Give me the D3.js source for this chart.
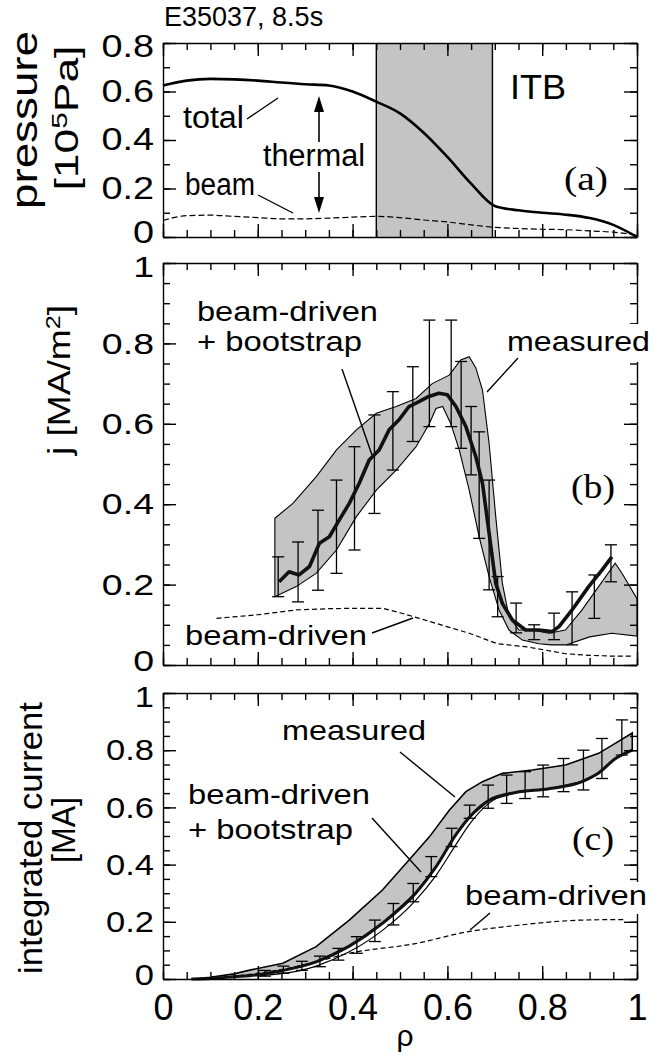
<!DOCTYPE html>
<html><head><meta charset="utf-8">
<script src="https://cdn.jsdelivr.net/npm/d3@7"></script>
<style>body{margin:0;background:#fff}</style>
</head><body>
<svg id="c" width="654" height="1056"></svg>
<script>
// ---------- DATA ----------
const xTicksMinor = [0,0.05,0.1,0.15,0.2,0.25,0.3,0.35,0.4,0.45,0.5,0.55,0.6,0.65,0.7,0.75,0.8,0.85,0.9,0.95,1];
const xTicksMajor = [0,0.2,0.4,0.6,0.8,1];
const xTickLabels = [0,0.2,0.4,0.6,0.8,1];
const yTicksMinorA = [0,0.1,0.2,0.3,0.4,0.5,0.6,0.7,0.8];
const yTicksMajorA = [0,0.2,0.4,0.6,0.8];
const yTicksMinorBC = [0,0.05,0.1,0.15,0.2,0.25,0.3,0.35,0.4,0.45,0.5,0.55,0.6,0.65,0.7,0.75,0.8,0.85,0.9,0.95,1];
const yTicksMajorBC = [0,0.2,0.4,0.6,0.8,1];
const itbRange = [0.45, 0.695];

// panel (a) pressure
const rhoA   = [0,0.05,0.1,0.15,0.2,0.25,0.3,0.35,0.4,0.45,0.5,0.55,0.6,0.65,0.7,0.75,0.8,0.85,0.9,0.95,1.0];
const totalP = [0.625,0.645,0.652,0.65,0.645,0.637,0.63,0.625,0.6,0.558,0.51,0.43,0.33,0.22,0.128,0.11,0.1,0.092,0.078,0.05,0.0];
const beamP  = [0.068,0.088,0.09,0.085,0.08,0.075,0.075,0.078,0.082,0.085,0.08,0.07,0.062,0.05,0.04,0.035,0.032,0.03,0.025,0.02,0.008];

// panel (b) current density
const bRhoUp = [0.236,0.274,0.323,0.366,0.408,0.45,0.492,0.534,0.568,0.604,0.628,0.646,0.66,0.674,0.688,0.702,0.716,0.73,0.751,0.779,0.814,0.849,0.884,0.919,0.954,0.968,1.0];
const bUp    = [0.365,0.402,0.468,0.535,0.585,0.626,0.643,0.663,0.70,0.721,0.759,0.767,0.739,0.684,0.551,0.369,0.203,0.12,0.087,0.087,0.079,0.087,0.137,0.195,0.253,0.229,0.165];
const bRhoLo = [0.236,0.281,0.323,0.366,0.408,0.45,0.492,0.534,0.562,0.576,0.59,0.607,0.625,0.646,0.667,0.688,0.709,0.73,0.758,0.793,0.82,0.85,0.9,0.947,1.0];
const bLo    = [0.17,0.195,0.228,0.286,0.369,0.435,0.485,0.543,0.601,0.638,0.643,0.601,0.535,0.435,0.319,0.22,0.137,0.087,0.062,0.053,0.05,0.05,0.07,0.079,0.072];
const bRhoCalc = [0.245,0.266,0.287,0.309,0.33,0.351,0.372,0.393,0.414,0.435,0.456,0.477,0.498,0.519,0.54,0.561,0.582,0.6,0.618,0.639,0.66,0.674,0.688,0.702,0.716,0.737,0.765,0.793,0.821,0.835,0.863,0.898,0.926,0.947];
const bCalc    = [0.207,0.232,0.224,0.245,0.303,0.319,0.361,0.402,0.452,0.51,0.535,0.585,0.61,0.643,0.655,0.668,0.676,0.672,0.643,0.593,0.518,0.452,0.328,0.203,0.153,0.112,0.087,0.087,0.083,0.095,0.137,0.195,0.236,0.269];
const bErrRho = [0.243,0.285,0.327,0.366,0.404,0.446,0.485,0.527,0.562,0.608,0.629,0.65,0.667,0.688,0.706,0.745,0.783,0.825,0.863,0.91,0.945];
const bErrHi  = [0.269,0.306,0.385,0.46,0.543,0.622,0.68,0.742,0.858,0.858,0.755,0.643,0.58,0.46,0.22,0.154,0.1,0.129,0.182,0.224,0.299];
const bErrLo  = [0.17,0.157,0.186,0.228,0.286,0.377,0.485,0.556,0.593,0.593,0.539,0.473,0.315,0.187,0.12,0.08,0.063,0.063,0.05,0.116,0.207];
const bRhoBeam = [0.113,0.2,0.281,0.35,0.4,0.464,0.5,0.541,0.6,0.646,0.705,0.768,0.85,0.9,0.95,0.99];
const bBeam    = [0.116,0.125,0.137,0.14,0.141,0.141,0.13,0.116,0.095,0.079,0.053,0.045,0.028,0.024,0.022,0.022];

// panel (c) integrated current
const cRhoUp = [0.06,0.1,0.15,0.183,0.253,0.323,0.393,0.463,0.519,0.562,0.604,0.639,0.674,0.716,0.779,0.849,0.919,0.954,0.99];
const cUp    = [0,0.006,0.018,0.031,0.055,0.113,0.206,0.311,0.416,0.497,0.59,0.655,0.69,0.719,0.731,0.748,0.789,0.824,0.86];
const cRhoLo = [0.06,0.1,0.15,0.2,0.253,0.323,0.393,0.463,0.533,0.575,0.618,0.646,0.688,0.744,0.814,0.884,0.919,0.954,0.99];
const cLo    = [0,0.002,0.008,0.015,0.03,0.06,0.115,0.195,0.3,0.39,0.505,0.565,0.625,0.652,0.665,0.69,0.72,0.77,0.8];
const cRhoCalcLow = [0.2,0.323,0.393,0.463,0.533,0.575,0.618,0.646,0.688,0.72];
const cCalcLow    = [0.01,0.045,0.095,0.17,0.275,0.36,0.47,0.54,0.615,0.645];
const cErrRho = [0.215,0.254,0.293,0.331,0.37,0.409,0.447,0.486,0.528,0.566,0.609,0.647,0.686,0.725,0.764,0.802,0.845,0.887,0.926,0.968];
const cErrHi  = [0.03,0.045,0.062,0.08,0.107,0.148,0.206,0.264,0.334,0.428,0.527,0.608,0.678,0.713,0.725,0.748,0.771,0.8,0.841,0.906];
const cErrLo  = [0.01,0.02,0.03,0.043,0.066,0.09,0.131,0.189,0.27,0.358,0.463,0.562,0.597,0.614,0.631,0.637,0.655,0.661,0.701,0.783];
const cRhoBeam = [0.06,0.2,0.3,0.393,0.533,0.639,0.744,0.884,0.975];
const cBeam    = [0,0.02,0.05,0.09,0.124,0.164,0.187,0.206,0.208];

// ---------- DRAWING ----------
const svg = d3.select("#c");
const FONT = "'Liberation Sans', Arial, Helvetica, sans-serif";
const SERIF = "'Liberation Serif', 'Times New Roman', serif";
const x  = d3.scaleLinear([0,1],[163,637]);
const ya = d3.scaleLinear([0,0.8],[237,43]);
const yb = d3.scaleLinear([0,1],[665,263]);
const yc = d3.scaleLinear([0,1],[979,693]);
const fmt = d => d===0 ? "0" : d===1 ? "1" : d.toFixed(1);

function line(y, curve){ return d3.line().x(d=>x(d[0])).y(d=>y(d[1])).curve(curve||d3.curveLinear); }

function band(y, rUp, vUp, rLo, vLo, sw){
  const pts = d3.zip(rUp, vUp).concat(d3.zip(rLo, vLo).reverse());
  svg.append("path").attr("d", line(y)(pts)+"Z")
    .attr("fill","#c4c4c4").attr("stroke","#000").attr("stroke-width",sw);
}
function errbars(y, r, hi, lo){
  const g = svg.append("g").attr("stroke","#000").attr("stroke-width",1.3);
  r.forEach((rv,i)=>{
    const xx = x(rv);
    g.append("line").attr("x1",xx).attr("x2",xx).attr("y1",y(hi[i])).attr("y2",y(lo[i]));
    g.append("line").attr("x1",xx-6).attr("x2",xx+6).attr("y1",y(hi[i])).attr("y2",y(hi[i]));
    g.append("line").attr("x1",xx-6).attr("x2",xx+6).attr("y1",y(lo[i])).attr("y2",y(lo[i]));
  });
}
function stretch(sel, f){
  sel.each(function(){
    const w = this.getComputedTextLength();
    d3.select(this).attr("textLength", w*f).attr("lengthAdjust","spacingAndGlyphs");
  });
}
function frame(y, yMinor, yMajor, labelSize, labelStretch, withX){
  const g = svg.append("g");
  const [y0,y1] = y.range();
  const x0 = x.range()[0], x1 = x.range()[1];
  const add = (ax, tr) => g.append("g").attr("transform",tr).call(ax);
  add(d3.axisBottom(x).tickValues(xTicksMinor).tickSize(-7).tickSizeOuter(0).tickFormat(""), `translate(0,${y0})`);
  add(d3.axisBottom(x).tickValues(xTicksMajor).tickSize(-13).tickSizeOuter(0).tickFormat(""), `translate(0,${y0})`).select(".domain").remove();
  add(d3.axisTop(x).tickValues(xTicksMinor).tickSize(-7).tickSizeOuter(0).tickFormat(""), `translate(0,${y1})`);
  add(d3.axisTop(x).tickValues(xTicksMajor).tickSize(-13).tickSizeOuter(0).tickFormat(""), `translate(0,${y1})`).select(".domain").remove();
  add(d3.axisLeft(y).tickValues(yMinor).tickSize(-7).tickSizeOuter(0).tickFormat(""), `translate(${x0},0)`);
  add(d3.axisLeft(y).tickValues(yMajor).tickSize(-13).tickSizeOuter(0).tickFormat(""), `translate(${x0},0)`).select(".domain").remove();
  add(d3.axisRight(y).tickValues(yMinor).tickSize(-7).tickSizeOuter(0).tickFormat(""), `translate(${x1},0)`);
  add(d3.axisRight(y).tickValues(yMajor).tickSize(-13).tickSizeOuter(0).tickFormat(""), `translate(${x1},0)`).select(".domain").remove();
  g.selectAll("path.domain, line").attr("stroke","#000").attr("stroke-width",1.4);
  const lab = add(d3.axisLeft(y).tickValues(yMajor).tickSize(0).tickPadding(9).tickFormat(fmt), `translate(${x0},0)`);
  lab.select(".domain").remove();
  const dom = y.domain();
  lab.selectAll("text").attr("font-family",FONT).attr("font-size",labelSize).attr("fill","#000")
    .attr("y", d => d===dom[0] ? -4 : d===dom[1] ? 4 : 0);
  stretch(lab.selectAll("text"), labelStretch);
  if(withX){
    const lx = add(d3.axisBottom(x).tickValues(xTickLabels).tickSize(0).tickPadding(15).tickFormat(fmt), `translate(0,${y0})`);
    lx.select(".domain").remove();
    lx.selectAll("text").attr("font-family",FONT).attr("font-size",36).attr("fill","#000");
  }
}
function text(str, tx, ty, size, opts={}){
  const t = svg.append("text").attr("x",tx).attr("y",ty).attr("font-family",opts.serif?SERIF:FONT)
    .attr("font-size",size).attr("fill","#000").text(str);
  if(opts.len) t.attr("textLength",opts.len).attr("lengthAdjust","spacingAndGlyphs");
  if(opts.anchor) t.attr("text-anchor",opts.anchor);
  return t;
}
function leader(x1,y1,x2,y2){
  svg.append("line").attr("x1",x1).attr("y1",y1).attr("x2",x2).attr("y2",y2).attr("stroke","#000").attr("stroke-width",1.4);
}
function whiteBox(x0,y0,w,h){ svg.append("rect").attr("x",x0).attr("y",y0).attr("width",w).attr("height",h).attr("fill","#fff"); }

// ----- panel (a)
svg.append("rect").attr("x",x(itbRange[0])).attr("y",ya(0.8)).attr("width",x(itbRange[1])-x(itbRange[0])).attr("height",ya(0)-ya(0.8))
  .attr("fill","#c4c4c4");
itbRange.forEach(r=>svg.append("line").attr("x1",x(r)).attr("x2",x(r)).attr("y1",ya(0.8)).attr("y2",ya(0)).attr("stroke","#000").attr("stroke-width",1.4));
svg.append("path").attr("d",line(ya,d3.curveMonotoneX)(d3.zip(rhoA,beamP))).attr("fill","none").attr("stroke","#000").attr("stroke-width",1.2).attr("stroke-dasharray","6,3");
svg.append("path").attr("d",line(ya,d3.curveMonotoneX)(d3.zip(rhoA,totalP))).attr("fill","none").attr("stroke","#000").attr("stroke-width",2.6);
frame(ya, yTicksMinorA, yTicksMajorA, 31, 1.22, false);
text("E35037, 8.5s", 164, 26, 27);
text("ITB", 510, 99, 35, {len:56});
text("(a)", 564, 190, 34, {serif:true, len:44});
text("total", 183, 128, 31, {len:61});
leader(247,119,278,98);
text("thermal", 263, 166, 31, {len:102});
text("beam", 185, 195, 31, {len:70});
leader(258,195,293,213);
// thermal arrows
const ax = 319;
svg.append("line").attr("x1",ax).attr("x2",ax).attr("y1",142).attr("y2",108).attr("stroke","#000").attr("stroke-width",1.6);
svg.append("path").attr("d",`M${ax},96 L${ax-5},112 L${ax+5},112 Z`).attr("fill","#000");
svg.append("line").attr("x1",ax).attr("x2",ax).attr("y1",172).attr("y2",202).attr("stroke","#000").attr("stroke-width",1.6);
svg.append("path").attr("d",`M${ax},213 L${ax-5},197 L${ax+5},197 Z`).attr("fill","#000");

// ----- panel (b)
band(yb, bRhoUp, bUp, bRhoLo, bLo, 1.1);
svg.append("path").attr("d",line(yb)(d3.zip(bRhoBeam,bBeam))).attr("fill","none").attr("stroke","#000").attr("stroke-width",1.2).attr("stroke-dasharray","5,3");
errbars(yb, bErrRho, bErrHi, bErrLo);
svg.append("path").attr("d",line(yb)(d3.zip(bRhoCalc,bCalc))).attr("fill","none").attr("stroke","#111").attr("stroke-width",3.6).attr("stroke-linejoin","round");
frame(yb, yTicksMinorBC, yTicksMajorBC, 30, 1.25, false);
text("beam-driven", 197, 321, 28, {len:181});
text("+ bootstrap", 197, 351, 28, {len:165});
leader(342,369,372,455);
whiteBox(505,324,149,38);
text("measured", 507, 351, 28, {len:143});
leader(518,358,487,392);
text("beam-driven", 185, 645, 28, {len:182});
leader(372,633,413,618);
text("(b)", 571, 498, 34, {serif:true, len:44});

// ----- panel (c)
band(yc, cRhoUp, cUp, cRhoLo, cLo, 1.6);
svg.append("path").attr("d",line(yc,d3.curveMonotoneX)(d3.zip(cRhoCalcLow,cCalcLow))).attr("fill","none").attr("stroke","#000").attr("stroke-width",1.2);
svg.append("path").attr("d",line(yc,d3.curveMonotoneX)(d3.zip(cRhoBeam,cBeam))).attr("fill","none").attr("stroke","#000").attr("stroke-width",1.2).attr("stroke-dasharray","5,3");
errbars(yc, cErrRho, cErrHi, cErrLo);
svg.append("path").attr("d",line(yc,d3.curveMonotoneX)(d3.zip(cRhoLo,cLo))).attr("fill","none").attr("stroke","#111").attr("stroke-width",3);
frame(yc, yTicksMinorBC, yTicksMajorBC, 30, 1.15, true);
text("measured", 282, 740, 28, {len:144});
leader(400,752,455,797);
text("beam-driven", 188, 804, 28, {len:182});
text("+ bootstrap", 188, 839, 28, {len:165});
leader(372,818,421,872);
whiteBox(462,882,192,32);
text("beam-driven", 465, 905, 28, {len:182});
leader(490,913,470,930);
text("(c)", 572, 850, 34, {serif:true, len:42});
text("ρ", 405, 1046, 30, {anchor:"middle"});

// ----- y axis titles
function vtext(lines){
  lines.forEach(l=>{
    svg.append("text").attr("transform",`translate(${l[1]},${l[2]}) rotate(-90)`).attr("text-anchor","middle")
      .attr("font-family",FONT).attr("font-size",l[3]).attr("fill","#000")
      .attr("textLength",l[4]).attr("lengthAdjust","spacingAndGlyphs").html(l[0]);
  });
}
vtext([
  ["pressure", 37, 120, 36, 178],
  ["[10<tspan dy='-11' font-size='22'>5</tspan><tspan dy='11'>Pa]</tspan>", 78, 118, 33, 145],
  ["j [MA/m<tspan dy='-10' font-size='21'>2</tspan><tspan dy='10'>]</tspan>", 70, 380, 31, 150],
  ["integrated current", 42, 838, 33, 272],
  ["[MA]", 75, 830, 33, 66]
]);
</script>
</body></html>
